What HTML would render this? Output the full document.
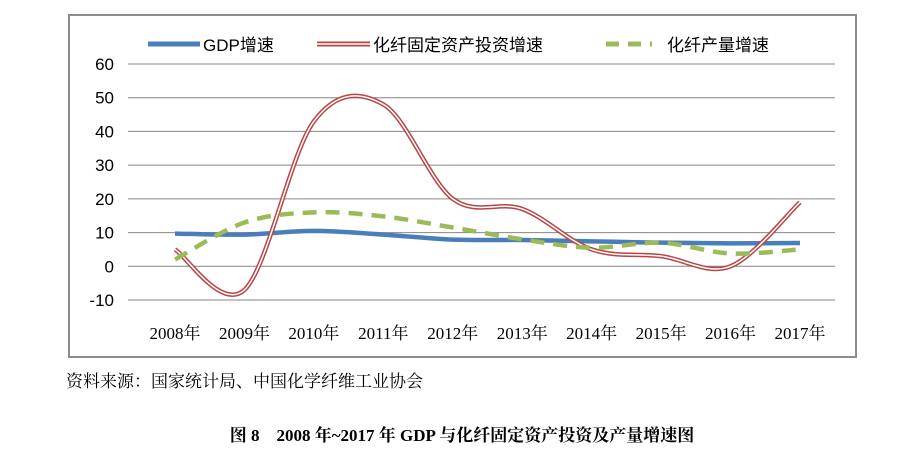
<!DOCTYPE html>
<html><head><meta charset="utf-8"><style>
body{margin:0;background:#fff;width:919px;height:452px;overflow:hidden;font-family:"Liberation Sans","Noto Sans CJK SC",sans-serif}
</style></head><body>
<svg width="919" height="452">
<rect x="69" y="15" width="787" height="342" fill="#fff" stroke="#8c8c8c" stroke-width="2"/>
<g id="grid"></g><g id="series"></g>
<g font-size="17" fill="#000">
<line x1="148" y1="44" x2="200" y2="44" stroke="#4a7ebb" stroke-width="5"/>
<text x="203" y="51">GDP增速</text>
<line x1="317" y1="44" x2="370" y2="44" stroke="#b84545" stroke-width="5"/><line x1="317" y1="44" x2="370" y2="44" stroke="#fff" stroke-width="1.6"/>
<text x="373" y="51">化纤固定资产投资增速</text>
<line x1="606" y1="44" x2="652" y2="44" stroke="#9bbb59" stroke-width="5" stroke-dasharray="13,9"/>
<text x="667" y="51">化纤产量增速</text>
</g>
<text x="66" y="387" font-size="17" font-family="'Liberation Serif','Noto Serif CJK SC',serif">资料来源：国家统计局、中国化学纤维工业协会</text>
<text x="462" y="441" font-size="17" font-weight="bold" text-anchor="middle" font-family="'Liberation Serif','Noto Serif CJK SC',serif">图 8　2008 年~2017 年 GDP 与化纤固定资产投资及产量增速图</text>
</svg>
<script>
const categories=["2008年","2009年","2010年","2011年","2012年","2013年","2014年","2015年","2016年","2017年"];
const gdp=[9.7,9.4,10.5,9.4,7.9,7.8,7.4,7.0,6.8,6.9];
const investment=[5,-7,43,48,20,17,5,3,0,19];
const production=[2,13,16,14.8,11.5,8,5.5,7,3.8,5];
const yTicks=[60,50,40,30,20,10,0,-10];
const NS="http://www.w3.org/2000/svg";
const L=128,R=835,T=64,B=300;
const y=v=>B-(v-(-10))/70*(B-T);
const x=i=>175+i*(800-175)/9;
const grid=document.getElementById('grid'),ser=document.getElementById('series');
function mk(t,a,p){const e=document.createElementNS(NS,t);for(const k in a)e.setAttribute(k,a[k]);p.appendChild(e);return e;}
yTicks.forEach(v=>{
 const l=mk('line',{x1:L,x2:R,y1:y(v),y2:y(v),stroke:'#868686','stroke-width':1},grid);
 
 
 const t=mk('text',{x:L-14,y:y(v)+6,'text-anchor':'end','font-size':17},grid);t.textContent=v;
 
 
});
categories.forEach((c,i)=>{const t=mk('text',{x:x(i),y:339,'text-anchor':'middle','font-size':17,'font-family':"'Liberation Serif','Noto Serif CJK SC',serif"},grid);t.textContent=c;
 
 });
function path(d){const p=d.map((v,i)=>[x(i),y(v)]);let s=`M${p[0][0]},${p[0][1]}`;
 for(let i=0;i<p.length-1;i++){const p0=p[i-1]||p[i],p1=p[i],p2=p[i+1],p3=p[i+2]||p2,k=1/6;
 s+=`C${p1[0]+(p2[0]-p0[0])*k},${p1[1]+(p2[1]-p0[1])*k} ${p2[0]-(p3[0]-p1[0])*k},${p2[1]-(p3[1]-p1[1])*k} ${p2[0]},${p2[1]}`;}return s;}
let e=mk('path',{d:path(gdp),fill:'none',stroke:'#4a7ebb','stroke-width':4.5},ser);


e=mk('path',{d:path(investment),fill:'none',stroke:'#b84545','stroke-width':4.5},ser);


mk('path',{d:path(investment),fill:'none',stroke:'#fff','stroke-width':1.5},ser);
e=mk('path',{d:path(production),fill:'none',stroke:'#9bbb59','stroke-width':4.5,'stroke-dasharray':'14,9'},ser);


</script>
</body></html>
